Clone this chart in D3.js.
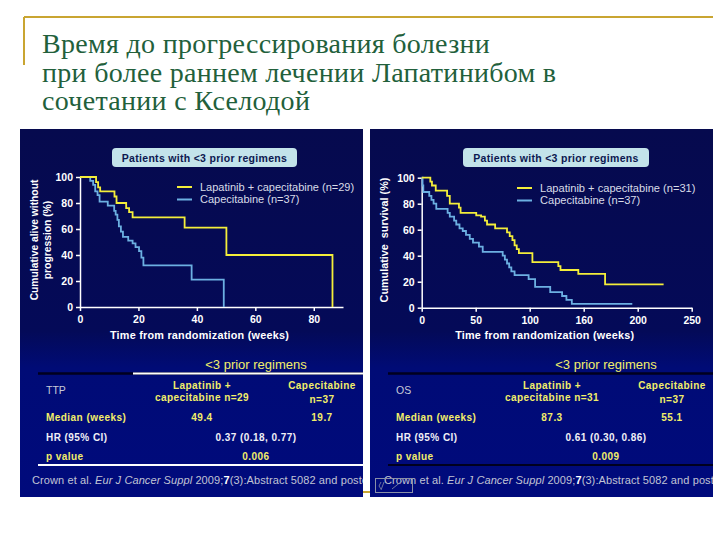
<!DOCTYPE html>
<html>
  <head>
    <meta http-equiv="Content-Type" content="text/html; charset=UTF-8">
    <script src="https://d3js.org/d3.v7.min.js"></script>
    <style type="text/css">
      body { margin: 0; background: #fff; }
      text { font-family: 'Liberation Sans', Arial, sans-serif; }
      .title { font-family: 'Liberation Serif', 'DejaVu Serif', serif; fill: #22603b; font-size: 28px; letter-spacing: 0.3px; }
    </style>
  </head>
  <body>
    <div id="canvas"></div>
    <script type="text/javascript">

    // slide title
    var titleLines = ['Время до прогрессирования болезни',
                      'при более раннем лечении Лапатинибом в',
                      'сочетании с Кселодой'];

    // TTP (left), Kaplan-Meier steps
    var ttpLapTime = [0, 5.5, 6.2, 6.9, 11.8, 12.5, 15.8, 16.8, 18, 35.8, 50.1, 86.4];
    var ttpLapSurv = [100, 96, 92, 89, 85, 80, 76, 73, 69, 61, 40, 0];
    var ttpCapTime = [0, 3.5, 4.5, 5.2, 6, 6.7, 9.5, 11.7, 12.2, 12.8, 13.3, 14, 14.7, 16.5, 18, 19, 20.2, 21, 21.7, 38.2, 49.2];
    var ttpCapSurv = [100, 97, 94, 89, 86, 81, 78, 74, 71, 67, 62, 58, 54, 51, 49, 46, 43, 38, 32, 21, 0];
    var ttpXTicks = [0, 20, 40, 60, 80];
    var ttpXLabels = ['0', '20', '40', '60', '80'];

    // OS (right)
    var osLapTime = [0, 8, 9.5, 13, 23.5, 26, 34.5, 36, 50.5, 55, 58.5, 60.5, 68, 79, 81.5, 84, 86, 88, 90, 102.5, 126.5, 128.5, 145, 169.8, 224];
    var osLapSurv = [100, 97, 94, 90, 86, 80, 77, 73, 71, 70, 67, 64, 61, 58, 55, 52, 48, 45, 42, 35, 32, 29, 26, 18, 18];
    var osCapTime = [0, 0.8, 1.5, 7, 9, 11, 13.5, 24, 26, 30, 32, 35, 38, 41, 44.5, 47.5, 53, 56.5, 75, 77, 79, 81, 83, 86, 99, 105, 119, 130, 134, 139, 195];
    var osCapSurv = [100, 94, 89, 86, 83, 80, 76, 73, 70, 67, 64, 61, 59, 56, 53, 50, 47, 43, 40, 37, 34, 31, 28, 25, 22, 16, 12, 9, 6, 3, 3];
    var osXTicks = [0, 50, 100, 150, 200, 250];
    var osXLabels = ['0', '50', '100', '160', '200', '250'];

    var yTicks = [0, 20, 40, 60, 80, 100];

    // tables
    var rowLabels = ['Median (weeks)', 'HR (95% CI)', 'p value'];
    var ttpTable = { head: 'TTP', lap: ['Lapatinib +', 'capecitabine n=29'], cap: ['Capecitabine', 'n=37'],
                     median: ['49.4', '19.7'], hr: '0.37 (0.18, 0.77)', p: '0.006' };
    var osTable  = { head: 'OS', lap: ['Lapatinib +', 'capecitabine n=31'], cap: ['Capecitabine', 'n=37'],
                     median: ['87.3', '55.1'], hr: '0.61 (0.30, 0.86)', p: '0.009' };

    var yellow = '#f4ee3a', blue = '#6cb0e2', tableYellow = '#f2ee6a';

    var svg = d3.select('#canvas').append('svg')
                .attr('width', 728)
                .attr('height', 546);

    var defs = svg.append('defs');
    var grad = defs.append('linearGradient').attr('id', 'bg')
                   .attr('x1', 0).attr('y1', 0).attr('x2', 0).attr('y2', 1);
    grad.append('stop').attr('offset', '0%').attr('stop-color', '#060a4e');
    grad.append('stop').attr('offset', '55%').attr('stop-color', '#040a58');
    grad.append('stop').attr('offset', '65%').attr('stop-color', '#000b76');
    grad.append('stop').attr('offset', '100%').attr('stop-color', '#000a7c');

    // slide decoration
    svg.append('line').attr('x1', 24).attr('x2', 713).attr('y1', 17).attr('y2', 17)
       .attr('stroke', '#c9a531').attr('stroke-width', 2);
    svg.append('line').attr('x1', 24).attr('x2', 24).attr('y1', 17).attr('y2', 65)
       .attr('stroke', '#c9a531').attr('stroke-width', 2);
    svg.append('line').attr('x1', 22).attr('x2', 713).attr('y1', 492).attr('y2', 492)
       .attr('stroke', '#c9a531').attr('stroke-width', 2);

    svg.selectAll('.title').data(titleLines).enter().append('text')
       .attr('class', 'title')
       .attr('x', 42)
       .attr('y', function (d, i) { return 53 + i * 28.5; })
       .text(function (d) { return d; });

    var drawPanel = function (cfg) {
      var g = svg.append('g');
      defs.append('clipPath').attr('id', 'clip' + cfg.id)
          .append('rect').attr('x', cfg.left).attr('y', 129).attr('width', 343).attr('height', 368);
      g.attr('clip-path', 'url(#clip' + cfg.id + ')');
      g.append('rect').attr('x', cfg.left).attr('y', 129).attr('width', 343).attr('height', 368)
       .attr('fill', 'url(#bg)');

      // header box
      g.append('rect').attr('x', cfg.box[0]).attr('y', 148).attr('width', cfg.box[1]).attr('height', 19)
       .attr('rx', 4).attr('fill', '#c3e3ea');
      g.append('text').attr('x', cfg.box[0] + cfg.box[1] / 2).attr('y', 161.5)
       .attr('text-anchor', 'middle').attr('font-size', '10.5px').attr('font-weight', 'bold')
       .attr('fill', '#0c1850').attr('letter-spacing', '0.3px')
       .text('Patients with <3 prior regimens');

      var x = d3.scaleLinear().domain(cfg.xDomain).range(cfg.xRange);
      var y = d3.scaleLinear().domain([0, 100]).range(cfg.yRange);

      var xAxis = g.append('g').attr('transform', 'translate(0,' + cfg.yRange[0] + ')')
                   .call(d3.axisBottom(x).tickValues(cfg.xTicks).tickSize(4).tickSizeOuter(0)
                         .tickFormat(function (d, i) { return cfg.xLabels[i]; }));
      var yAxis = g.append('g').attr('transform', 'translate(' + cfg.xRange[0] + ',0)')
                   .call(d3.axisLeft(y).tickValues(yTicks).tickSize(4).tickSizeOuter(0));
      [xAxis, yAxis].forEach(function (a) {
        a.select('.domain').attr('stroke', '#fff').attr('stroke-width', 1.5);
        a.selectAll('.tick line').attr('stroke', '#fff').attr('stroke-width', 1.5);
        a.selectAll('.tick text').attr('fill', '#fff').attr('font-size', '10.5px')
         .attr('font-weight', 'bold').attr('font-family', 'Liberation Sans, Arial, sans-serif');
      });
      xAxis.selectAll('.tick text').attr('dy', '0.9em');

      g.append('text').attr('x', (cfg.xRange[0] + cfg.xRange[1]) / 2 - 12).attr('y', 339)
       .attr('text-anchor', 'middle').attr('fill', '#fff').attr('font-size', '10.8px')
       .attr('font-weight', 'bold').attr('letter-spacing', '0.25px')
       .text('Time from randomization (weeks)');

      cfg.yTitle.forEach(function (t, i) {
        g.append('text')
         .attr('transform', 'translate(' + (cfg.yTitleX + i * 12.5) + ',' + cfg.yTitleY + ') rotate(-90)')
         .attr('text-anchor', 'middle').attr('fill', '#fff').attr('font-size', cfg.yTitleSize)
         .attr('font-weight', 'bold').attr('xml:space', 'preserve').text(t);
      });

      var line = d3.line()
                   .x(function (d) { return x(d[0]); })
                   .y(function (d) { return y(d[1]); })
                   .curve(d3.curveStepAfter);
      cfg.series.forEach(function (s) {
        var pts = s.t.map(function (t, i) { return [t, s.s[i]]; });
        g.append('path').attr('d', line(pts)).attr('fill', 'none')
         .attr('stroke', s.color).attr('stroke-width', 1.8);
      });

      // legend
      cfg.series.slice().reverse().forEach(function (s, i) {
        var ly = cfg.legend[1] + i * 12.5;
        g.append('line').attr('x1', cfg.legend[0]).attr('x2', cfg.legend[0] + 15)
         .attr('y1', ly).attr('y2', ly).attr('stroke', s.color).attr('stroke-width', 2);
        g.append('text').attr('x', cfg.legend[0] + 23).attr('y', ly + 3.8)
         .attr('fill', '#d8dce8').attr('font-size', cfg.legendSize).text(s.name);
      });

      // table
      var tb = cfg.table, L = cfg.left;
      g.append('text').attr('x', L + 236).attr('y', 368.5).attr('text-anchor', 'middle')
       .attr('fill', tableYellow).attr('font-size', '13px').text('<3 prior regimens');
      g.append('line').attr('x1', L + 18).attr('x2', L + 343).attr('y1', 373.5).attr('y2', 373.5)
       .attr('stroke', '#00001e').attr('stroke-width', 2.5);
      if (cfg.whiteRules) {
        g.append('line').attr('x1', L + 113).attr('x2', L + 343).attr('y1', 373.5).attr('y2', 373.5)
         .attr('stroke', '#fff').attr('stroke-width', 2);
      }
      g.append('line').attr('x1', L + 18).attr('x2', L + 343).attr('y1', 465).attr('y2', 465)
       .attr('stroke', cfg.whiteRules ? '#fff' : '#00001e').attr('stroke-width', 2);

      var colA = L + 182, colB = L + 302, colM = L + 236, colL = L + 26;
      g.append('text').attr('x', colL).attr('y', 394).attr('fill', '#c8cad8')
       .attr('font-size', '10.5px').text(tb.head);
      var bold = function (txt, xx, yy, col, anchor) {
        g.append('text').attr('x', xx).attr('y', yy).attr('text-anchor', anchor || 'middle')
         .attr('fill', col).attr('font-size', '10px').attr('font-weight', 'bold')
         .attr('letter-spacing', '0.45px').text(txt);
      };
      bold(tb.lap[0], colA, 389, tableYellow);
      bold(tb.lap[1], colA, 401, tableYellow);
      bold(tb.cap[0], colB, 389, tableYellow);
      bold(tb.cap[1], colB, 403, tableYellow);
      bold(rowLabels[0], colL, 421, tableYellow, 'start');
      bold(tb.median[0], colA, 421, tableYellow);
      bold(tb.median[1], colB, 421, tableYellow);
      bold(rowLabels[1], colL, 441, '#f0f0f6', 'start');
      bold(tb.hr, colM, 441, '#f0f0f6');
      bold(rowLabels[2], colL, 460, tableYellow, 'start');
      bold(tb.p, colM, 460, tableYellow);

      var cite = g.append('text').attr('x', L + cfg.citeX).attr('y', 483.5)
                  .attr('fill', '#c0c4d4').attr('font-size', '11px').attr('letter-spacing', '0.1px');
      cite.append('tspan').text('Crown et al. ');
      cite.append('tspan').attr('font-style', 'italic').text('Eur J Cancer Suppl');
      cite.append('tspan').text(' 2009;');
      cite.append('tspan').attr('font-weight', 'bold').attr('fill', '#fff').text('7');
      cite.append('tspan').text('(3):Abstract 5082 and poster');
    };

    drawPanel({
      id: 'ttp', left: 20, box: [112, 185],
      xDomain: [0, 90], xRange: [80, 343], yRange: [307, 177],
      xTicks: ttpXTicks, xLabels: ttpXLabels,
      yTitle: ['Cumulative alive without', 'progression (%)'], yTitleX: 38, yTitleY: 240, yTitleSize: '10.3px',
      legend: [177, 187], legendSize: '11px',
      series: [{ t: ttpCapTime, s: ttpCapSurv, color: blue, name: 'Capecitabine (n=37)' },
               { t: ttpLapTime, s: ttpLapSurv, color: yellow, name: 'Lapatinib + capecitabine (n=29)' }],
      table: ttpTable, whiteRules: true, citeX: 12
    });

    drawPanel({
      id: 'os', left: 370, box: [463, 186],
      xDomain: [0, 250], xRange: [421.7, 691.7], yRange: [307.7, 177.7],
      xTicks: osXTicks, xLabels: osXLabels,
      yTitle: ['Cumulative  survival (%)'], yTitleX: 388, yTitleY: 240, yTitleSize: '10.8px',
      legend: [517, 188], legendSize: '11.1px',
      series: [{ t: osCapTime, s: osCapSurv, color: blue, name: 'Capecitabine (n=37)' },
               { t: osLapTime, s: osLapSurv, color: yellow, name: 'Lapatinib + capecitabine (n=31)' }],
      table: osTable, whiteRules: false, citeX: 14
    });

    // slide navigation icon
    svg.append('rect').attr('x', 375.5).attr('y', 478.5).attr('width', 37).attr('height', 14)
       .attr('fill', 'none').attr('stroke', '#8a90a8').attr('stroke-width', 1);
    svg.append('path').attr('d', 'M381,490 l3,-8 M381,482 l-2,4 l2,3 M392,489 l10,-8')
       .attr('fill', 'none').attr('stroke', '#8a90a8').attr('stroke-width', 0.8);

    </script>
  </body>
</html>
